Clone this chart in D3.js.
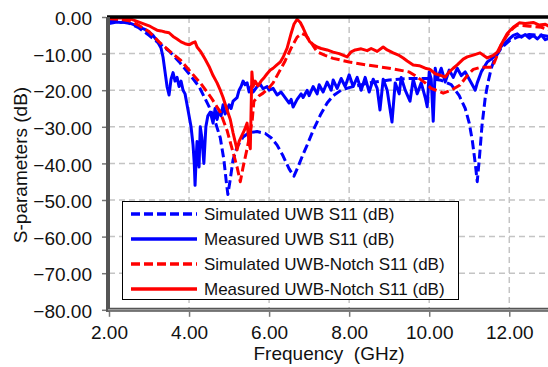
<!DOCTYPE html>
<html>
<head>
<meta charset="utf-8">
<script src="https://cdn.jsdelivr.net/npm/d3@7"></script>
<style>
body { margin: 0; background: #fff; }
text { font-family: Arial, "Liberation Sans", sans-serif; fill: #111; }
</style>
</head>
<body>
<svg class="svg"></svg>
<script>
// [GHz, dB]
let simUWB = [[2.0,-1.2],[2.25,-1.2],[2.5,-1.7],[2.75,-3.0],[3.0,-5.0],[3.25,-7.2],[3.5,-9.3],[3.75,-12.2],[4.0,-15.5],[4.25,-19],[4.5,-24.5],[4.65,-28.5],[4.78,-33],[4.87,-39],[4.93,-45],[4.97,-48.5],[5.02,-45],[5.1,-39],[5.2,-35.5],[5.35,-32.8],[5.5,-31.6],[5.7,-31.3],[5.9,-31.8],[6.05,-33],[6.2,-35],[6.35,-38],[6.5,-41.5],[6.62,-43.5],[6.72,-41],[6.85,-37.5],[6.95,-35],[7.1,-31],[7.28,-26.8],[7.45,-23.5],[7.6,-21.5],[7.8,-20],[8.0,-19.3],[8.5,-18],[9.0,-17.2],[9.5,-16.8],[10.0,-16.8],[10.3,-17.3],[10.55,-18.5],[10.75,-21.5],[10.9,-25],[11.0,-29],[11.08,-34],[11.15,-40],[11.2,-45],[11.25,-39],[11.32,-29.5],[11.4,-22],[11.47,-17.8],[11.55,-14],[11.64,-11.2],[11.8,-8.5],[12.0,-6.5],[12.2,-5.5],[12.5,-4.8],[12.8,-5],[13.0,-5.3]]

let measUWB = [[2.0,-1.8],[2.1,-1.6],[2.2,-1.4],[2.3,-1.5],[2.4,-1.3],[2.5,-1.6],[2.6,-2.0],[2.7,-2.4],[2.8,-3.0],[2.9,-3.4],[3.0,-4.2],[3.1,-5.0],[3.2,-6.5],[3.3,-8.5],[3.35,-11],[3.4,-15],[3.45,-19],[3.5,-21.3],[3.55,-17],[3.6,-15.2],[3.65,-17.5],[3.7,-16.5],[3.75,-19],[3.8,-17.5],[3.85,-20],[3.9,-21],[3.95,-24],[4.0,-27],[4.05,-30],[4.1,-35],[4.13,-40],[4.15,-46],[4.18,-38],[4.2,-34],[4.25,-41],[4.28,-30],[4.32,-33],[4.37,-40],[4.42,-30],[4.47,-27],[4.53,-26],[4.6,-29],[4.65,-25],[4.7,-28],[4.75,-25.5],[4.8,-27],[4.85,-24],[4.9,-26.5],[4.95,-25.5],[5.0,-24],[5.05,-25],[5.1,-23],[5.2,-22],[5.25,-20],[5.3,-19],[5.35,-17.5],[5.4,-18.5],[5.45,-18],[5.5,-20.5],[5.55,-19],[5.6,-20.5],[5.7,-19],[5.78,-18.4],[5.85,-19.6],[5.95,-19],[6.0,-20],[6.1,-19.5],[6.2,-21.3],[6.3,-20.5],[6.4,-22],[6.5,-23.5],[6.55,-22.5],[6.6,-24.6],[6.7,-22.5],[6.8,-21],[6.85,-22],[6.95,-20],[7.0,-21.5],[7.1,-19],[7.2,-21],[7.25,-18.5],[7.35,-20.5],[7.45,-17.8],[7.55,-20],[7.6,-17.2],[7.7,-19.5],[7.8,-16.8],[7.9,-19],[8.0,-15.8],[8.1,-19],[8.2,-16.5],[8.3,-20],[8.4,-16.5],[8.5,-20.5],[8.6,-17],[8.7,-19.5],[8.77,-25.4],[8.85,-17],[8.95,-20],[9.07,-28.7],[9.15,-18],[9.25,-21],[9.3,-16.5],[9.4,-20],[9.52,-23],[9.6,-17],[9.7,-21],[9.8,-18],[9.9,-22],[9.95,-24.5],[10.0,-15],[10.05,-17],[10.1,-28.5],[10.15,-14],[10.2,-17],[10.3,-14],[10.4,-17.8],[10.5,-14.5],[10.6,-16.5],[10.7,-14],[10.8,-16],[10.9,-15],[11.0,-17],[11.1,-19],[11.15,-20],[11.2,-18],[11.3,-15],[11.45,-12.3],[11.55,-11.5],[11.7,-10],[11.8,-8],[11.95,-6.5],[12.1,-5],[12.2,-4.6],[12.3,-5.5],[12.4,-4.8],[12.5,-5.8],[12.6,-5],[12.7,-6],[12.8,-4.9],[12.9,-6.2],[13.0,-5.8]]

let simNotch = [[2.0,-0.5],[2.25,-0.6],[2.5,-1.0],[2.75,-2.3],[3.0,-4.0],[3.25,-6.8],[3.5,-9.2],[3.78,-11.7],[4.0,-14.5],[4.28,-18],[4.55,-22],[4.78,-26],[4.95,-31],[5.1,-37],[5.2,-41],[5.28,-45],[5.35,-41],[5.45,-36],[5.52,-32],[5.58,-28],[5.62,-23],[5.75,-21.5],[5.85,-20.8],[6.0,-19.3],[6.1,-18],[6.25,-15],[6.4,-12],[6.55,-8.5],[6.7,-5.5],[6.82,-4.5],[6.92,-5],[7.05,-7],[7.2,-9.5],[7.4,-10.5],[7.6,-11.3],[8.0,-12.3],[8.5,-13.2],[9.0,-14],[9.5,-15],[9.7,-16.4],[9.9,-18],[10.05,-19.5],[10.35,-20.8],[10.55,-20],[10.77,-18.6],[10.95,-16],[11.1,-14.3],[11.3,-13.7],[11.58,-13.7],[11.7,-10.4],[11.8,-7.5],[11.95,-4.9],[12.1,-3],[12.2,-2.2],[12.5,-2.5],[12.8,-2.8],[13.0,-3.5]]

let measNotch = [[2.0,-0.3],[2.3,-0.3],[2.5,-0.4],[2.6,-0.8],[2.7,-1.2],[2.8,-1.6],[2.9,-2.0],[3.0,-2.4],[3.1,-3.0],[3.2,-3.6],[3.3,-3.8],[3.4,-4.1],[3.5,-4.3],[3.6,-5.3],[3.7,-6.0],[3.8,-6.8],[3.9,-7.3],[4.0,-7.6],[4.1,-7.0],[4.15,-6.8],[4.2,-8.2],[4.3,-9.6],[4.4,-11.5],[4.5,-13.5],[4.6,-16],[4.7,-18],[4.78,-20],[4.85,-22],[4.95,-25.4],[5.03,-28],[5.1,-31.7],[5.2,-36.3],[5.25,-34],[5.3,-32.8],[5.38,-31],[5.45,-29],[5.5,-34.4],[5.53,-36],[5.57,-15],[5.6,-19],[5.65,-17.5],[5.72,-18.8],[5.8,-17.5],[5.88,-16.5],[5.95,-15.5],[6.03,-14.5],[6.1,-14],[6.2,-13],[6.28,-12.3],[6.35,-11],[6.45,-8.5],[6.55,-4.5],[6.62,-2],[6.7,-0.6],[6.78,-1.5],[6.85,-3],[6.95,-5.5],[7.02,-6.8],[7.1,-7.5],[7.2,-8.2],[7.3,-8.6],[7.45,-9],[7.6,-9.6],[7.75,-10],[7.95,-10.9],[8.05,-9.5],[8.15,-9],[8.3,-8.7],[8.45,-9.2],[8.55,-8.6],[8.7,-9.4],[8.85,-8.2],[8.95,-9],[9.1,-9.8],[9.25,-10.5],[9.35,-11.2],[9.45,-12],[9.6,-13.1],[9.75,-13.3],[9.9,-14],[10.02,-14.3],[10.15,-15.5],[10.3,-16],[10.4,-16.4],[10.5,-15],[10.6,-14],[10.7,-13.1],[10.85,-11.5],[10.95,-10.9],[11.1,-10.4],[11.27,-9.8],[11.45,-11.2],[11.6,-10.5],[11.7,-9.6],[11.8,-7.5],[11.95,-4.5],[12.1,-2.8],[12.25,-1.6],[12.4,-1.8],[12.6,-1.5],[12.75,-2.2],[12.9,-2.0],[13.0,-2.6]]

let xTicks = [2, 4, 6, 8, 10, 12]
let yTicks = [0, -10, -20, -30, -40, -50, -60, -70, -80]
let seriesNames = ["Simulated UWB S11 (dB)", "Measured UWB S11 (dB)", "Simulated UWB-Notch S11 (dB)", "Measured UWB-Notch S11 (dB)"]

let W = 548, H = 367
let svg = d3.select(".svg").attr("width", W).attr("height", H)

let x = d3.scaleLinear().domain([2, 13]).range([109, 549.3])
let y = d3.scaleLinear().domain([0, -80]).range([17, 309.8])

// grid
let grid = svg.append("g")
grid.selectAll(".gx").data(xTicks.slice(1)).enter().append("line")
    .attr("x1", d => x(d)).attr("x2", d => x(d))
    .attr("y1", y(0)).attr("y2", y(-80))
    .attr("stroke", "#c4c4c4").attr("stroke-width", 1.5).attr("stroke-dasharray", "6,4")
grid.selectAll(".gy").data(yTicks.slice(1, -1)).enter().append("line")
    .attr("x1", x(2)).attr("x2", W)
    .attr("y1", d => y(d)).attr("y2", d => y(d))
    .attr("stroke", "#c4c4c4").attr("stroke-width", 1.5).attr("stroke-dasharray", "6,4")

svg.append("clipPath").attr("id", "clip").append("rect")
    .attr("x", x(2)).attr("y", y(0)).attr("width", W - x(2)).attr("height", y(-80) - y(0))

let line = d3.line().x(d => x(d[0])).y(d => y(d[1]))
let series = [
    {data: simUWB, color: "#0000ff", dash: "9,4"},
    {data: measUWB, color: "#0000ff", dash: null},
    {data: simNotch, color: "#ff0000", dash: "9,4"},
    {data: measNotch, color: "#ff0000", dash: null}
]
let plot = svg.append("g").attr("clip-path", "url(#clip)")
series.forEach(s => {
    plot.append("path").datum(s.data)
        .attr("d", line)
        .attr("fill", "none")
        .attr("stroke", s.color)
        .attr("stroke-width", 3)
        .attr("stroke-linejoin", "round")
        .attr("stroke-dasharray", s.dash)
})

// frame
svg.append("line").attr("x1", x(2) - 2).attr("x2", W).attr("y1", y(0)).attr("y2", y(0))
    .attr("stroke", "#000").attr("stroke-width", 3.5)
svg.append("line").attr("x1", x(2) - 1).attr("x2", x(2) - 1).attr("y1", y(0)).attr("y2", y(-80) + 2)
    .attr("stroke", "#555").attr("stroke-width", 4)
svg.append("line").attr("x1", x(2) - 3).attr("x2", W).attr("y1", y(-80)).attr("y2", y(-80))
    .attr("stroke", "#555").attr("stroke-width", 4)
svg.append("line").attr("x1", x(2) - 1).attr("x2", W).attr("y1", y(-80)).attr("y2", y(-80))
    .attr("stroke", "#bbb").attr("stroke-width", 1)

// axes
let yAxis = d3.axisLeft(y).tickValues(yTicks).tickSize(4).tickFormat(d3.format(".2f"))
let gy = svg.append("g").attr("transform", `translate(${x(2) - 3},0)`).call(yAxis)
gy.select(".domain").remove()
gy.selectAll(".tick line").attr("stroke", "#777").attr("stroke-width", 1.5)
gy.selectAll(".tick text").attr("x", -14).attr("dy", "0.4em").attr("font-size", 19).attr("fill", "#111")
    .style("font-family", "Arial, 'Liberation Sans', sans-serif")

let xAxis = d3.axisBottom(x).tickValues(xTicks).tickSize(5).tickFormat(d3.format(".2f"))
let gx = svg.append("g").attr("transform", `translate(0,${y(-80) + 2})`).call(xAxis)
gx.select(".domain").remove()
gx.selectAll(".tick line").attr("stroke", "#777").attr("stroke-width", 1.5)
gx.selectAll(".tick text").attr("y", 14).attr("font-size", 19).attr("fill", "#111")
    .style("font-family", "Arial, 'Liberation Sans', sans-serif")

svg.append("text").attr("x", 329).attr("y", 360).attr("text-anchor", "middle")
    .attr("font-size", 19).style("white-space", "pre").text("Frequency  (GHz)")
svg.append("text").attr("transform", "translate(27,165) rotate(-90)").attr("text-anchor", "middle")
    .attr("font-size", 19).text("S-parameters (dB)")

// legend
let legend = svg.append("g")
legend.append("rect").attr("x", 122.5).attr("y", 201.5).attr("width", 336).attr("height", 98)
    .attr("fill", "#fff").attr("stroke", "#000").attr("stroke-width", 1)
series.forEach((s, i) => {
    let ly = 214 + i * 25
    legend.append("line").attr("x1", 131).attr("x2", 197).attr("y1", ly).attr("y2", ly)
        .attr("stroke", s.color).attr("stroke-width", 3.5).attr("stroke-dasharray", s.dash)
    legend.append("text").attr("x", 204).attr("y", ly + 6).attr("font-size", 17).text(seriesNames[i])
})
</script>
</body>
</html>
